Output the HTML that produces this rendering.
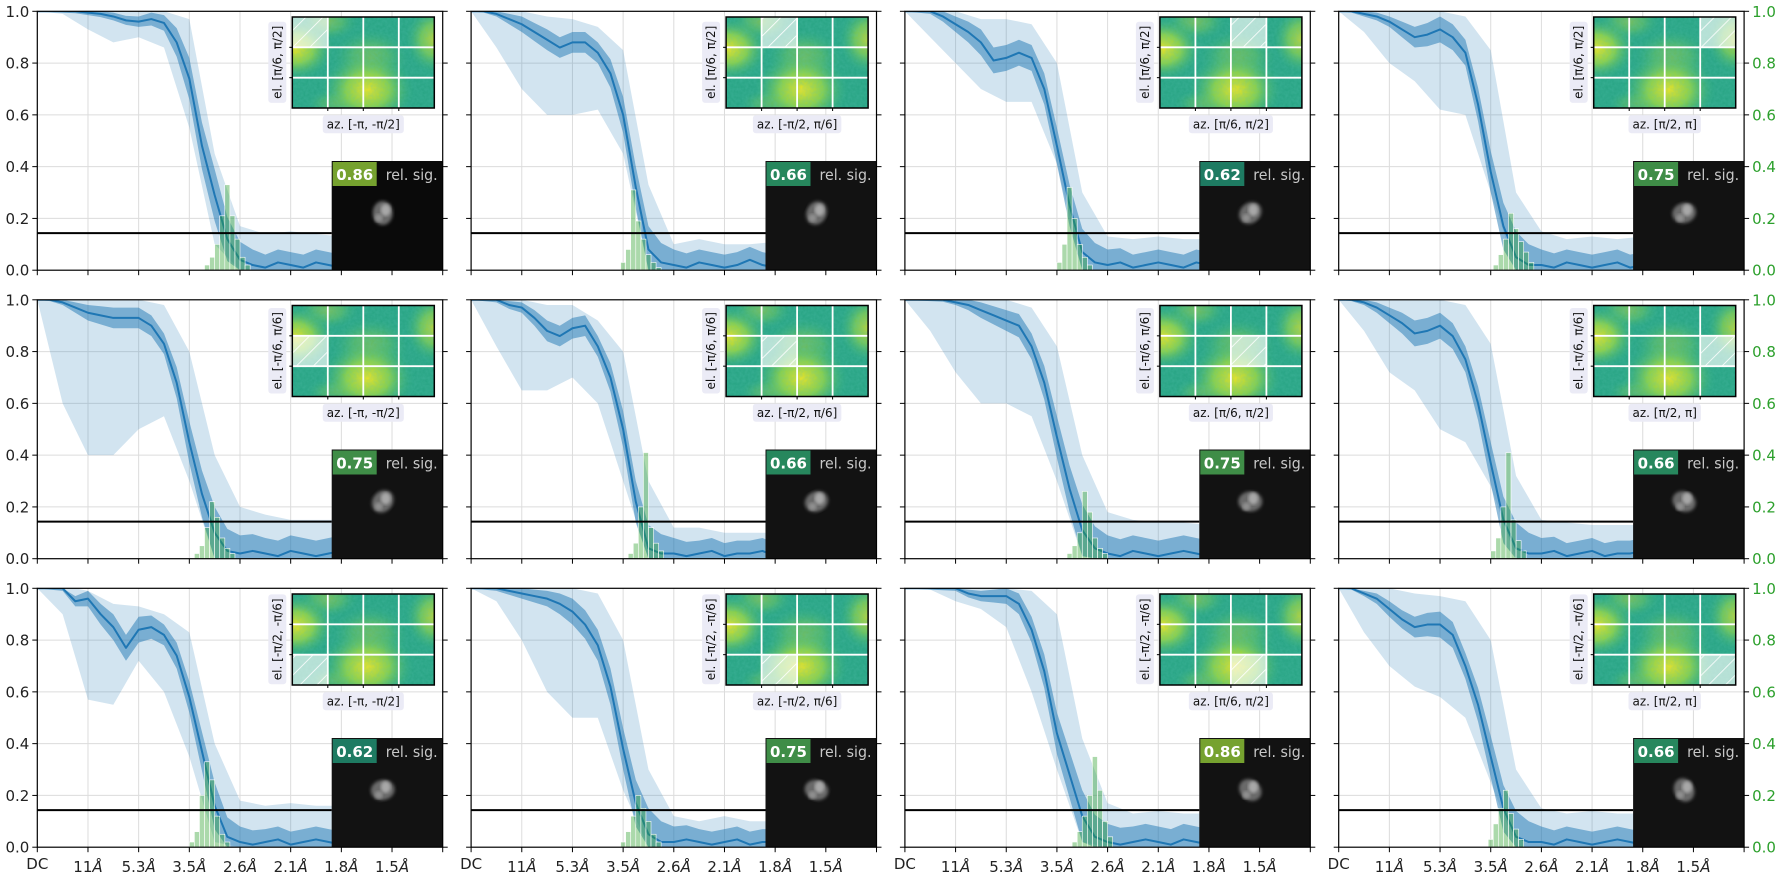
<!DOCTYPE html>
<html><head><meta charset="utf-8">
<style>
html,body{margin:0;padding:0;background:#fff;}
svg{display:block;font-family:"DejaVu Sans","Liberation Sans",sans-serif;}
</style></head>
<body>
<svg id="chart" width="1780" height="880" viewBox="0 0 1780 880" xmlns="http://www.w3.org/2000/svg">
<defs>
<radialGradient id="yel" cx="0.5" cy="0.5" r="0.5">
<stop offset="0" stop-color="#f2e51d" stop-opacity="1"/>
<stop offset="0.45" stop-color="#9fd83a" stop-opacity="0.85"/>
<stop offset="1" stop-color="#22a884" stop-opacity="0"/>
</radialGradient>
<pattern id="hatch" width="12" height="12" patternUnits="userSpaceOnUse" patternTransform="rotate(45)">
<line x1="0" y1="0" x2="0" y2="12" stroke="#ffffff" stroke-width="1.6"/>
</pattern>
<filter id="blur2"><feGaussianBlur stdDeviation="1.5"/></filter>
<filter id="noise" x="0" y="0" width="100%" height="100%">
<feTurbulence type="fractalNoise" baseFrequency="0.35" numOctaves="2" seed="3"/>
<feColorMatrix type="matrix" values="0 0 0 0 0.1  0 0 0 0 0.55  0 0 0 0 0.45  0 0 0 0.35 0"/>
</filter>
</defs>
</svg>
<script>
// ---- data ----
const tickLabels = ["DC","11","5.3","3.5","2.6","2.1","1.8","1.5"];
const yTicks = [0,0.2,0.4,0.6,0.8,1.0];
const threshold = 0.143;
const elLabels = ["el. [π/6, π/2]","el. [-π/6, π/6]","el. [-π/2, -π/6]"];
const azLabels = ["az. [-π, -π/2]","az. [-π/2, π/6]","az. [π/6, π/2]","az. [π/2, π]"];
const relSig = [[0.86,0.66,0.62,0.75],[0.75,0.66,0.75,0.66],[0.62,0.75,0.86,0.66]];

// mean curves, sampled every 0.25 tick from DC (0) to edge (8)
const meanP11=[1,1,1,1,.995,.99,.98,.965,.96,.97,.955,.88,.74,.48,.29,.12,.04,.02,.01,.03,.02,.01,.03,.02,.01,.02,.03,.02,.01,.02,.01,.02,.02];
const meanP12=[1,1,.99,.97,.95,.92,.89,.86,.88,.88,.84,.76,.6,.32,.08,.03,.02,.01,.03,.02,.01,.02,.04,.02,.01,.02,.03,.01,.02,.02,.01,.02,.02];
const meanP13=[1,1,1,.98,.95,.92,.88,.81,.82,.84,.82,.7,.48,.25,.07,.03,.02,.03,.01,.02,.03,.02,.01,.03,.02,.01,.02,.03,.02,.01,.02,.02,.02];
const meanP14=[1,1,.99,.98,.96,.93,.9,.91,.93,.9,.84,.64,.38,.17,.05,.02,.02,.01,.03,.02,.01,.02,.03,.01,.02,.03,.02,.01,.02,.02,.01,.02,.02];
const meanP21=[1,1,.99,.97,.95,.94,.93,.93,.93,.9,.83,.68,.45,.25,.1,.03,.02,.03,.02,.01,.03,.02,.01,.02,.03,.02,.01,.02,.03,.02,.01,.02,.02];
const meanP22=[1,1,1,.98,.97,.93,.88,.86,.89,.9,.82,.7,.5,.22,.04,.02,.02,.01,.02,.03,.01,.02,.02,.03,.01,.02,.01,.03,.02,.01,.02,.02,.02];
const meanP23=[1,1,1,1,.99,.98,.96,.94,.92,.9,.82,.68,.47,.27,.11,.04,.02,.01,.03,.02,.01,.02,.03,.02,.01,.03,.02,.01,.02,.02,.01,.02,.02];
const meanP24=[1,1,.99,.97,.94,.91,.87,.88,.9,.86,.77,.6,.37,.15,.04,.02,.02,.03,.01,.02,.03,.01,.02,.02,.03,.01,.02,.01,.02,.03,.02,.02,.02];
const meanP31=[1,1,1,.95,.96,.9,.85,.77,.84,.85,.82,.74,.58,.37,.16,.04,.02,.01,.02,.03,.01,.02,.03,.02,.01,.02,.03,.01,.02,.02,.01,.02,.02];
const meanP32=[1,1,1,.99,.98,.97,.96,.94,.91,.86,.78,.62,.38,.17,.05,.02,.02,.03,.02,.01,.02,.03,.01,.02,.02,.01,.03,.02,.01,.02,.02,.02,.02];
const meanP33=[1,1,1,1,1,.98,.97,.97,.97,.94,.84,.68,.44,.28,.12,.04,.02,.01,.02,.03,.02,.01,.03,.02,.01,.02,.02,.03,.01,.02,.02,.02,.02];
const meanP34=[1,1,.98,.96,.92,.88,.85,.86,.86,.82,.7,.55,.35,.15,.04,.02,.02,.01,.03,.02,.01,.02,.03,.02,.01,.02,.03,.01,.02,.02,.01,.02,.02];

// dark band half-width, every 0.5 tick
const darkP11=[0,.005,.01,.015,.02,.03,.08,.1,.07,.05,.05,.05,.05,.05,.05,.05,.05];
const darkP12=[0,.01,.03,.04,.04,.04,.07,.09,.06,.05,.05,.05,.05,.05,.05,.05,.05];
const darkP13=[0,.01,.03,.05,.05,.05,.07,.09,.06,.05,.05,.05,.05,.05,.05,.05,.05];
const darkP14=[0,.01,.02,.04,.05,.05,.08,.1,.06,.05,.05,.05,.05,.05,.05,.05,.05];
const darkP21=[0,.01,.03,.04,.04,.04,.08,.1,.07,.06,.06,.06,.06,.06,.06,.06,.06];
const darkP22=[0,.01,.02,.04,.04,.04,.07,.09,.06,.05,.05,.05,.05,.05,.05,.05,.05];
const darkP23=[0,.005,.01,.03,.04,.05,.08,.1,.07,.06,.06,.06,.06,.06,.06,.06,.06];
const darkP24=[0,.01,.03,.05,.05,.05,.08,.1,.06,.05,.05,.05,.05,.05,.05,.05,.05];
const darkP31=[0,.01,.03,.05,.05,.04,.06,.09,.06,.05,.05,.05,.05,.05,.05,.05,.05];
const darkP32=[0,.01,.02,.03,.05,.06,.08,.1,.06,.05,.05,.05,.05,.05,.05,.05,.05];
const darkP33=[0,.005,.01,.02,.03,.05,.08,.1,.07,.06,.06,.06,.06,.06,.06,.06,.06];
const darkP34=[0,.01,.03,.04,.05,.05,.08,.1,.06,.05,.05,.05,.05,.05,.05,.05,.05];

// light band (min / max), every 0.5 tick
const loP11=[1,.99,.93,.88,.9,.86,.55,.1,0,0,0,0,0,0,0,0,0];
const hiP11=[1,1,1,1,1,1,.97,.45,.17,.14,.15,.14,.13,.12,.12,.12,.12];
const loP12=[1,.86,.7,.6,.6,.62,.45,.02,0,0,0,0,0,0,0,0,0];
const hiP12=[1,1,1,.98,.97,.94,.85,.33,.1,.12,.1,.1,.11,.1,.1,.1,.1];
const loP13=[1,.9,.8,.7,.65,.65,.45,.05,0,0,0,0,0,0,0,0,0];
const hiP13=[1,1,1,.97,.97,.95,.8,.3,.13,.12,.13,.12,.12,.12,.12,.12,.12];
const loP14=[1,.92,.8,.73,.62,.6,.3,0,0,0,0,0,0,0,0,0,0];
const hiP14=[1,1,1,1,1,.98,.85,.3,.15,.12,.13,.12,.13,.12,.12,.12,.12];
const loP21=[1,.6,.4,.4,.5,.55,.3,0,0,0,0,0,0,0,0,0,0];
const hiP21=[1,1,1,1,1,.98,.8,.4,.2,.17,.15,.15,.15,.14,.14,.14,.14];
const loP22=[1,.82,.65,.65,.7,.6,.3,0,0,0,0,0,0,0,0,0,0];
const hiP22=[1,1,1,.98,.98,.92,.8,.3,.12,.12,.1,.1,.1,.1,.1,.1,.1];
const loP23=[1,.88,.72,.6,.6,.55,.3,.02,0,0,0,0,0,0,0,0,0];
const hiP23=[1,1,1,1,1,.97,.82,.4,.18,.15,.14,.14,.13,.13,.13,.13,.13];
const loP24=[1,.88,.72,.65,.5,.45,.28,0,0,0,0,0,0,0,0,0,0];
const hiP24=[1,1,1,1,1,.98,.83,.32,.15,.14,.13,.13,.13,.12,.12,.12,.12];
const loP31=[1,.9,.57,.55,.72,.6,.35,.02,0,0,0,0,0,0,0,0,0];
const hiP31=[1,1,.95,.94,.93,.9,.83,.4,.18,.16,.17,.16,.16,.15,.15,.15,.15];
const loP32=[1,.95,.8,.6,.5,.5,.22,0,0,0,0,0,0,0,0,0,0];
const hiP32=[1,1,1,1,1,.98,.8,.3,.12,.1,.12,.1,.1,.1,.1,.1,.1];
const loP33=[1,1,.95,.92,.85,.6,.3,.02,0,0,0,0,0,0,0,0,0];
const hiP33=[1,1,1,1,1,.99,.9,.42,.17,.13,.14,.13,.13,.13,.13,.13,.13];
const loP34=[1,.83,.7,.62,.58,.5,.25,0,0,0,0,0,0,0,0,0,0];
const hiP34=[1,1,1,.98,.97,.95,.8,.3,.15,.13,.14,.13,.13,.13,.13,.13,.13];

// resolution histograms: first bin (tick units) and bin heights (bin width 0.1 tick)
const histStart=[[3.3,2.95,3.0,3.05],[3.1,3.1,3.2,3.0],[3.0,2.95,3.3,2.95]];
const histP11=[.02,.05,.1,.21,.33,.21,.12,.05,.02];
const histP12=[.03,.08,.31,.19,.12,.06,.03,.01];
const histP13=[.03,.1,.32,.2,.1,.05,.02];
const histP14=[.02,.06,.12,.22,.16,.11,.07,.03];
const histP21=[.02,.05,.12,.22,.16,.08,.04,.02];
const histP22=[.02,.06,.2,.41,.12,.06,.03];
const histP23=[.02,.05,.1,.26,.18,.08,.04,.02];
const histP24=[.03,.08,.2,.41,.15,.07,.03];
const histP31=[.02,.06,.2,.33,.26,.12,.05,.02];
const histP32=[.02,.06,.12,.2,.15,.1,.05,.02];
const histP33=[.02,.06,.12,.2,.35,.22,.1,.04];
const histP34=[.03,.09,.15,.22,.13,.07,.03];

const meanSets=[[meanP11,meanP12,meanP13,meanP14],[meanP21,meanP22,meanP23,meanP24],[meanP31,meanP32,meanP33,meanP34]];
const darkSets=[[darkP11,darkP12,darkP13,darkP14],[darkP21,darkP22,darkP23,darkP24],[darkP31,darkP32,darkP33,darkP34]];
const loSets=[[loP11,loP12,loP13,loP14],[loP21,loP22,loP23,loP24],[loP31,loP32,loP33,loP34]];
const hiSets=[[hiP11,hiP12,hiP13,hiP14],[hiP21,hiP22,hiP23,hiP24],[hiP31,hiP32,hiP33,hiP34]];
const histSets=[[histP11,histP12,histP13,histP14],[histP21,histP22,histP23,histP24],[histP31,histP32,histP33,histP34]];

// ---- layout ----
const PL=[37.3,471.1,904.9,1338.7], PT=[11.3,299.8,588.3], W=405.4, H=258.9;
const NS="http://www.w3.org/2000/svg";
const svg=document.getElementById('chart');
function mk(tag,attrs,parent){const e=document.createElementNS(NS,tag);for(const k in attrs)e.setAttribute(k,attrs[k]);(parent||svg).appendChild(e);return e;}
function badgeColor(v){return v>=0.8?"#76a22f":v>=0.7?"#3f8d47":v>=0.65?"#27875d":"#1e7b62";}

for(let r=0;r<3;r++){for(let c=0;c<4;c++){
  const L=PL[c],T=PT[r];
  const x=t=>L+t*W/8, y=v=>T+H*(1-v);
  const mean=meanSets[r][c], dark=darkSets[r][c], lo=loSets[r][c], hi=hiSets[r][c], hist=histSets[r][c];
  const g=mk('g',{});
  
  
  const cid='clip'+r+c;
  const cp=mk('clipPath',{id:cid},g);
  mk('rect',{x:L,y:T,width:W,height:H},cp);
  const plot=mk('g',{'clip-path':'url(#'+cid+')'},g);
  
  
  for(let t=1;t<8;t++){
    const gl=mk('line',{x1:x(t),x2:x(t),y1:T,y2:T+H,stroke:'#dcdcdc','stroke-width':1},plot);
    
    
  }
  for(const v of [0.2,0.4,0.6,0.8]){
    const gl=mk('line',{x1:L,x2:L+W,y1:y(v),y2:y(v),stroke:'#dcdcdc','stroke-width':1},plot);
    
    
  }
  let up=[],dn=[];
  for(let k=0;k<lo.length;k++){
    const m=mean[Math.min(k*2,mean.length-1)], w=dark[k];
    up.push(x(k*0.5)+','+y(Math.max(hi[k],m+w)));
    dn.unshift(x(k*0.5)+','+y(Math.min(lo[k],Math.max(0,m-w))));
  }
  const lb=mk('polygon',{points:up.concat(dn).join(' '),fill:'#1f77b4','fill-opacity':0.2},plot);
  
  
  up=[];dn=[];
  for(let i=0;i<mean.length;i++){
    const k=i/2, w=(i%2===0)?dark[k]:(dark[Math.floor(k)]+dark[Math.ceil(k)])/2;
    up.push(x(i*0.25)+','+y(Math.min(1,mean[i]+w)));
    dn.unshift(x(i*0.25)+','+y(Math.max(0,mean[i]-w)));
  }
  const db=mk('polygon',{points:up.concat(dn).join(' '),fill:'#1f77b4','fill-opacity':0.5},plot);
  
  
  const ml=mk('polyline',{points:mean.map((v,i)=>x(i*0.25)+','+y(v)).join(' '),fill:'none',stroke:'#1f77b4','stroke-width':2,'stroke-linejoin':'round'},plot);
  
  
  const bw=0.1;
  hist.forEach((h,i)=>{
    const t0=histStart[r][c]+i*bw;
    const b=mk('rect',{x:x(t0),y:y(h),width:x(t0+bw)-x(t0),height:y(0)-y(h),fill:'#2ca02c','fill-opacity':0.4,stroke:'#ffffff','stroke-width':0.6},plot);
    
    
  });
  const boxL=L+294.4, boxT=T+149.7;
  const th=mk('line',{x1:L,x2:boxL,y1:y(threshold),y2:y(threshold),stroke:'#000','stroke-width':2},g);
  
  
  // heatmap inset
  const ix=L+255, iy=T+5.7, iw=142, ih=91;
  const hg=mk('g',{},g);
  
  
  const hcid='hclip'+r+c;
  const hcp=mk('clipPath',{id:hcid},hg);
  mk('rect',{x:ix,y:iy,width:iw,height:ih},hcp);
  const hin=mk('g',{'clip-path':'url(#'+hcid+')'},hg);
  mk('rect',{x:ix,y:iy,width:iw,height:ih,fill:'#26a382'},hin);
  mk('ellipse',{cx:ix+0.55*iw,cy:iy+0.45*ih,rx:40,ry:30,fill:'url(#yel)',opacity:0.4},hin);
  mk('ellipse',{cx:ix+0.25*iw,cy:iy+0.05*ih,rx:32,ry:20,fill:'url(#yel)',opacity:0.4},hin);
  mk('ellipse',{cx:ix+0.3*iw,cy:iy+0.95*ih,rx:30,ry:15,fill:'url(#yel)',opacity:0.3},hin);
  mk('ellipse',{cx:ix+0.02*iw,cy:iy+0.35*ih,rx:40,ry:32,fill:'url(#yel)'},hin);
  mk('ellipse',{cx:ix+0.53*iw,cy:iy+0.8*ih,rx:48,ry:38,fill:'url(#yel)'},hin);
  mk('ellipse',{cx:ix+1.0*iw,cy:iy+0.25*ih,rx:30,ry:35,fill:'url(#yel)',opacity:0.75},hin);
  mk('rect',{x:ix,y:iy,width:iw,height:ih,filter:'url(#noise)'},hin);
  const hc=mk('rect',{x:ix+c*iw/4,y:iy+r*ih/3,width:iw/4,height:ih/3,fill:'#ffffff','fill-opacity':0.65},hin);
  
  
  mk('rect',{x:ix+c*iw/4,y:iy+r*ih/3,width:iw/4,height:ih/3,fill:'url(#hatch)'},hin);
  for(let k=1;k<4;k++) mk('line',{x1:ix+k*iw/4,x2:ix+k*iw/4,y1:iy,y2:iy+ih,stroke:'#fff','stroke-width':1.8},hin);
  for(let k=1;k<3;k++) mk('line',{x1:ix,x2:ix+iw,y1:iy+k*ih/3,y2:iy+k*ih/3,stroke:'#fff','stroke-width':1.8},hin);
  mk('rect',{x:ix,y:iy,width:iw,height:ih,fill:'none',stroke:'#000','stroke-width':1.5},hg);
  for(let k=1;k<4;k++) mk('line',{x1:ix+k*iw/4,x2:ix+k*iw/4,y1:iy+ih,y2:iy+ih+3,stroke:'#000','stroke-width':1},hg);
  for(let k=1;k<3;k++) mk('line',{x1:ix-3,x2:ix,y1:iy+k*ih/3,y2:iy+k*ih/3,stroke:'#000','stroke-width':1},hg);
  const ecx=L+240, ecy=T+51;
  const elBg=mk('rect',{fill:'#ebebf6',rx:3},g);
  const el=mk('text',{x:ecx,y:ecy+4,'font-size':12,'text-anchor':'middle',fill:'#111',transform:'rotate(-90 '+ecx+' '+ecy+')'},g);
  el.textContent=elLabels[r];
  
  
  const elw=el.getComputedTextLength()+8;
  elBg.setAttribute('x',ecx-9);elBg.setAttribute('y',ecy-elw/2);elBg.setAttribute('width',18);elBg.setAttribute('height',elw);
  const acx=L+326, acy=T+113;
  const azBg=mk('rect',{fill:'#ebebf6',rx:3},g);
  const az=mk('text',{x:acx,y:acy+4,'font-size':12,'text-anchor':'middle',fill:'#111'},g);
  az.textContent=azLabels[c];
  
  
  const azw=az.getComputedTextLength()+8;
  azBg.setAttribute('x',acx-azw/2);azBg.setAttribute('y',acy-9);azBg.setAttribute('width',azw);azBg.setAttribute('height',18);
  // black image box
  const bg=mk('g',{},g);
  
  
  mk('rect',{x:boxL,y:boxT,width:L+W-boxL,height:T+H-boxT,fill:(r===0&&c===0)?'#0a0a0a':'#121212'},bg);
  const bx=boxL+51, by=boxT+52;
  mk('ellipse',{cx:bx,cy:by,rx:10,ry:12,fill:'#6a6a6a',filter:'url(#blur2)',transform:'rotate('+(r*40+c*25)+' '+bx+' '+by+')'},bg);
  mk('ellipse',{cx:bx+3,cy:by-3,rx:5,ry:6,fill:'#a8a8a8',filter:'url(#blur2)'},bg);
  mk('ellipse',{cx:bx-4,cy:by+5,rx:4,ry:4,fill:'#909090',filter:'url(#blur2)'},bg);
  const val=relSig[r][c];
  const br=mk('rect',{x:boxL+1,y:boxT+1,width:44,height:24,fill:badgeColor(val)},bg);
  
  
  const bt=mk('text',{x:boxL+23,y:boxT+19,'font-size':15,'font-weight':'bold','text-anchor':'middle',fill:'#fff'},bg);
  bt.textContent=val.toFixed(2);
  
  
  const rt=mk('text',{x:boxL+54,y:boxT+19,'font-size':15,fill:'#c8c8c8',textLength:52,lengthAdjust:'spacingAndGlyphs'},bg);
  rt.textContent='rel. sig.';
  
  
  const sp=mk('rect',{x:L,y:T,width:W,height:H,fill:'none',stroke:'#000','stroke-width':1.2},g);
  
  
  for(let t=0;t<=8;t++){
    const tk=mk('line',{x1:x(t),x2:x(t),y1:T+H,y2:T+H+5,stroke:'#000','stroke-width':1},g);
    
    
  }
  if(r===2){
    tickLabels.forEach((lab,t)=>{
      const tx=mk('text',{x:x(t),y:(t===0?T+H+22:T+H+25),'font-size':15,'text-anchor':'middle',fill:'#222'},g);
      
      
      tx.textContent=lab;
      if(t>0){const ts=mk('tspan',{'font-style':'italic'},tx);ts.textContent='Å';}
    });
  }
  for(const v of yTicks){
    const tl=mk('line',{x1:L-5,x2:L,y1:y(v),y2:y(v),stroke:'#000','stroke-width':1},g);
    
    
    const tr=mk('line',{x1:L+W,x2:L+W+5,y1:y(v),y2:y(v),stroke:'#000','stroke-width':1},g);
    
    
    if(c===0){
      const tt=mk('text',{x:L-8,y:y(v)+5.5,'font-size':15,'text-anchor':'end',fill:'#222'},g);
      tt.textContent=v.toFixed(1);
      
      
    }
    if(c===3){
      const tt=mk('text',{x:L+W+8,y:y(v)+5.5,'font-size':15,'text-anchor':'start',fill:'#2ca02c'},g);
      tt.textContent=v.toFixed(1);
      
      
    }
  }
}}
</script>
</body></html>
